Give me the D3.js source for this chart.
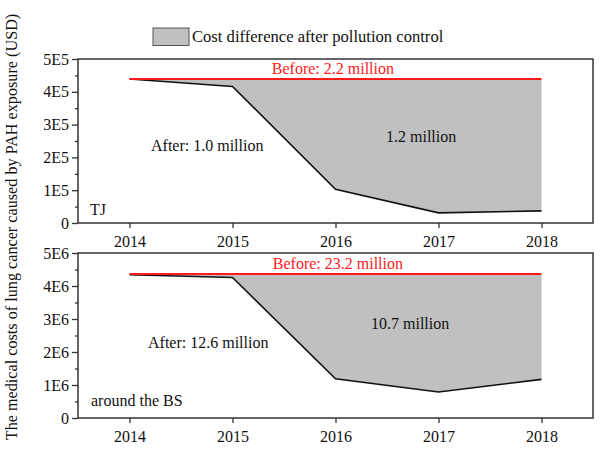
<!DOCTYPE html>
<html>
<head>
<meta charset="utf-8">
<script src="https://cdn.jsdelivr.net/npm/d3@7"></script>
<style>
  body { margin: 0; background: #fff; }
  svg text { font-family: "Liberation Serif", "Times New Roman", serif; }
</style>
</head>
<body>
<div id="chart"></div>
<script>
// data
var years = [2014, 2015, 2016, 2017, 2018];
var tjBefore = [4.39e5, 4.39e5, 4.39e5, 4.39e5, 4.39e5];
var tjAfter = [4.39e5, 4.16e5, 1.03e5, 0.31e5, 0.37e5];
var bsBefore = [4.36e6, 4.36e6, 4.36e6, 4.36e6, 4.36e6];
var bsAfter = [4.34e6, 4.26e6, 1.19e6, 0.79e6, 1.17e6];
var tjTicks = ["0", "1E5", "2E5", "3E5", "4E5", "5E5"];
var bsTicks = ["0", "1E6", "2E6", "3E6", "4E6", "5E6"];

var W = 600, H = 455;
var left = 78, right = 593;

var svg = d3.select("#chart").append("svg")
  .attr("width", W).attr("height", H);

var x = d3.scaleLinear().domain([2013.5, 2018.5]).range([left, right]);

// legend
svg.append("rect")
  .attr("x", 153).attr("y", 28).attr("width", 36).attr("height", 17.5)
  .attr("fill", "#c0c0c0").attr("stroke", "#555").attr("stroke-width", 1);
svg.append("text")
  .attr("x", 192).attr("y", 42)
  .attr("font-size", 16.6).attr("fill", "#111")
  .text("Cost difference after pollution control");

// y axis title
svg.append("text")
  .attr("transform", "translate(17," + 227 + ") rotate(-90)")
  .attr("text-anchor", "middle")
  .attr("font-size", 16.2).attr("fill", "#111")
  .text("The medical costs of lung cancer caused by PAH exposure (USD)");

function panel(top, bottom, before, after, ymax, tickLabels, notes) {
  var y = d3.scaleLinear().domain([0, ymax]).range([bottom, top]);
  var g = svg.append("g");

  var pts = years.map(function(d, i) { return { yr: d, b: before[i], a: after[i] }; });

  // shaded difference
  g.append("path")
    .datum(pts)
    .attr("fill", "#c0c0c0")
    .attr("d", d3.area()
      .x(function(d) { return x(d.yr); })
      .y0(function(d) { return y(d.a); })
      .y1(function(d) { return y(d.b); }));

  g.append("path")
    .datum(pts)
    .attr("fill", "none").attr("stroke", "#111").attr("stroke-width", 1.6)
    .attr("d", d3.line().x(function(d) { return x(d.yr); }).y(function(d) { return y(d.a); }));

  g.append("path")
    .datum(pts)
    .attr("fill", "none").attr("stroke", "#ff1a1a").attr("stroke-width", 2)
    .attr("d", d3.line().x(function(d) { return x(d.yr); }).y(function(d) { return y(d.b); }));

  // frame
  g.append("rect")
    .attr("x", left).attr("y", top)
    .attr("width", right - left).attr("height", bottom - top)
    .attr("fill", "none").attr("stroke", "#333").attr("stroke-width", 1.5);

  // y axis with minor ticks
  var step = ymax / 5;
  var yAxis = d3.axisLeft(y)
    .tickValues(d3.range(0, 6).map(function(i) { return i * step; }))
    .tickSize(6).tickPadding(3)
    .tickFormat(function(d, i) { return tickLabels[i]; });
  var ya = g.append("g").attr("transform", "translate(" + left + ",0)").call(yAxis);
  var yMinor = d3.axisLeft(y)
    .tickValues(d3.range(0, 5).map(function(i) { return (i + 0.5) * step; }))
    .tickSize(3).tickFormat("");
  var ym = g.append("g").attr("transform", "translate(" + left + ",0)").call(yMinor);

  // x axis
  var xAxis = d3.axisBottom(x).tickValues(years).tickSize(5).tickPadding(8)
    .tickFormat(d3.format("d"));
  var xa = g.append("g").attr("transform", "translate(0," + bottom + ")").call(xAxis);

  [ya, ym, xa].forEach(function(a) {
    a.select(".domain").remove();
    a.selectAll(".tick line").attr("stroke", "#333").attr("stroke-width", 1.3);
    a.selectAll("text").attr("font-size", 16).attr("fill", "#111")
      .attr("font-family", "Liberation Serif, serif");
  });

  notes.forEach(function(n) {
    g.append("text")
      .attr("x", n.x).attr("y", n.y)
      .attr("text-anchor", n.anchor || "start")
      .attr("font-size", 16)
      .attr("fill", n.color || "#111")
      .text(n.text);
  });
}

panel(59, 223, tjBefore, tjAfter, 5e5, tjTicks, [
  { text: "Before: 2.2 million", x: 394, y: 74, anchor: "end", color: "#ff1a1a" },
  { text: "After: 1.0 million", x: 151, y: 151 },
  { text: "1.2 million", x: 386, y: 142 },
  { text: "TJ", x: 90, y: 215 }
]);

panel(253, 418, bsBefore, bsAfter, 5e6, bsTicks, [
  { text: "Before: 23.2 million", x: 403, y: 269, anchor: "end", color: "#ff1a1a" },
  { text: "10.7 million", x: 371, y: 329 },
  { text: "After: 12.6 million", x: 148, y: 348 },
  { text: "around the BS", x: 91, y: 406 }
]);
</script>
</body>
</html>
